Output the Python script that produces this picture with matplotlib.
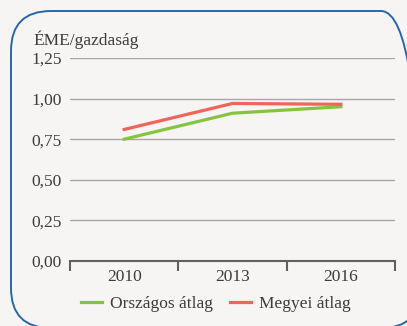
import matplotlib.pyplot as plt
from matplotlib.patches import FancyBboxPatch
from matplotlib.transforms import IdentityTransform

years = ['2010', '2013', '2016']
orszagos = [0.75, 0.91, 0.95]
megyei = [0.81, 0.97, 0.965]
yticks = [0.0, 0.25, 0.5, 0.75, 1.0, 1.25]
ytick_labels = ['0,00', '0,25', '0,50', '0,75', '1,00', '1,25']

plt.rcParams['font.family'] = ['Liberation Serif', 'DejaVu Serif']
bg = '#f6f5f3'
txt = '#3c3c3c'
fs = 12.5
W, H = 407, 326

fig = plt.figure(figsize=(W / 100, H / 100), dpi=100, facecolor=bg)

# rounded frame in pixel coordinates, right and bottom run past the edge
box = FancyBboxPatch((11, H - 328), 410, 317,
                     boxstyle='round,pad=0,rounding_size=40',
                     transform=IdentityTransform(), facecolor='none',
                     edgecolor='#2767a8', linewidth=1.4)
fig.patches.append(box)

ax = fig.add_axes([70 / W, 1 - 261 / H, 325 / W, 203 / H])
ax.set_facecolor(bg)

x = range(len(years))
ax.plot(x, orszagos, color='#86c440', linewidth=2.3, label='Országos átlag')
ax.plot(x, megyei, color='#f2635a', linewidth=2.3, label='Megyei átlag')

ax.set_xlim(-0.5, 2.5)
ax.set_ylim(0, 1.25)
ax.set_yticks(yticks)
ax.set_yticklabels(ytick_labels)
ax.yaxis.grid(True, color='#a8a8a8', linewidth=1)
ax.set_axisbelow(True)

# category ticks sit between the year labels
ax.set_xticks([-0.5, 0.5, 1.5, 2.5])
ax.set_xticklabels([])
ax.set_xticks([0, 1, 2], minor=True)
ax.set_xticklabels(years, minor=True)
ax.tick_params(axis='x', which='major', length=7, width=1.5, color='#606060', direction='out')
ax.tick_params(axis='x', which='minor', length=0, pad=6, labelsize=fs, labelcolor=txt)
ax.tick_params(axis='y', length=0, pad=6, labelsize=fs, labelcolor=txt)

for s in ['top', 'right', 'left']:
    ax.spines[s].set_visible(False)
ax.spines['bottom'].set_color('#606060')
ax.spines['bottom'].set_linewidth(1.5)

fig.text(33 / W, 1 - 40 / H, 'ÉME/gazdaság', fontsize=fs, color=txt, va='center')

fig.legend(loc='center', bbox_to_anchor=(216 / W, 1 - 304 / H), ncol=2, frameon=False,
           fontsize=fs, handlelength=1.2, columnspacing=0.95, handletextpad=0.5,
           labelcolor=txt)

fig.savefig('out.png', dpi=100, facecolor=bg)
